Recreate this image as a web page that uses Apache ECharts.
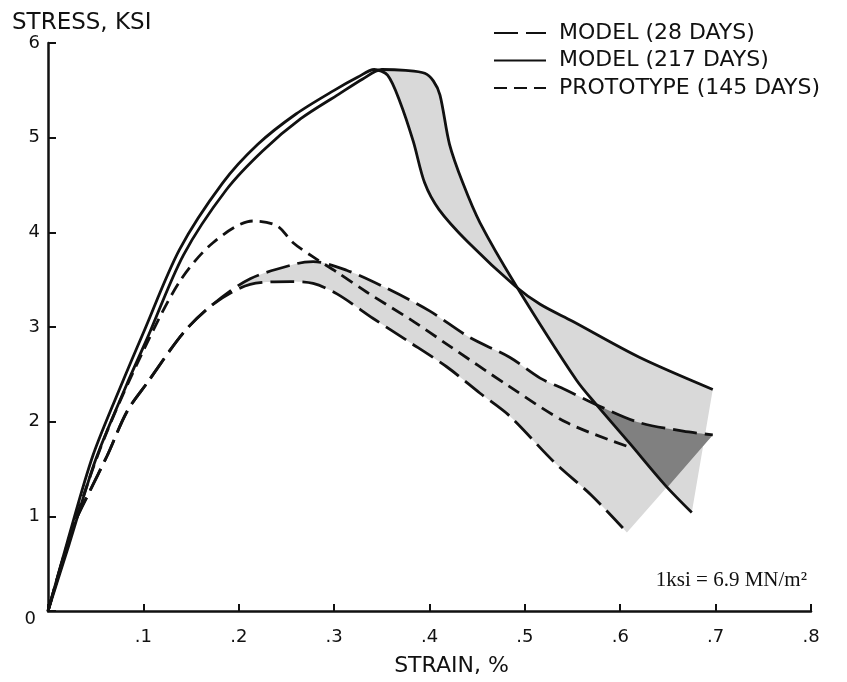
<!DOCTYPE html>
<html>
<head>
<meta charset="utf-8">
<script src="https://cdn.jsdelivr.net/npm/echarts@6/dist/echarts.min.js"></script>
<style>
  html, body { margin: 0; padding: 0; background: #fff; }
  #chart { width: 847px; height: 682px; }
</style>
</head>
<body>
<div id="chart"></div>
<script>
// strain (%), stress (ksi)
const model217Early = [
  [0, 0], [0.02, 0.72], [0.047, 1.64], [0.079, 2.44], [0.1, 2.94], [0.138, 3.82],
  [0.183, 4.52], [0.22, 4.93], [0.26, 5.25], [0.3, 5.5], [0.325, 5.64], [0.342, 5.72],
  [0.356, 5.66], [0.369, 5.38], [0.383, 4.96], [0.395, 4.52], [0.41, 4.24], [0.44, 3.9],
  [0.49, 3.43], [0.516, 3.24], [0.55, 3.06], [0.62, 2.68], [0.697, 2.34]
];
const model217Late = [
  [0, 0], [0.022, 0.7], [0.05, 1.6], [0.082, 2.38], [0.104, 2.88], [0.142, 3.76],
  [0.187, 4.45], [0.225, 4.86], [0.265, 5.2], [0.305, 5.46], [0.33, 5.62], [0.35, 5.72],
  [0.375, 5.71], [0.395, 5.68], [0.404, 5.6], [0.411, 5.45], [0.421, 4.93], [0.435, 4.52],
  [0.453, 4.1], [0.49, 3.45], [0.554, 2.44], [0.575, 2.18], [0.61, 1.77], [0.647, 1.33],
  [0.675, 1.04]
];
const model28Rise = [
  [0, 0], [0.026, 0.88], [0.044, 1.27], [0.062, 1.64], [0.083, 2.11], [0.104, 2.41],
  [0.142, 2.94], [0.173, 3.24]
];
const model28Top = [
  [0.212, 3.51], [0.261, 3.67], [0.278, 3.69], [0.313, 3.6], [0.355, 3.41], [0.4, 3.17],
  [0.442, 2.89], [0.484, 2.68], [0.516, 2.46], [0.542, 2.34], [0.579, 2.16], [0.62, 1.99],
  [0.666, 1.9], [0.697, 1.86]
];
const model28Bottom = [
  [0.212, 3.45], [0.254, 3.48], [0.278, 3.46], [0.303, 3.35], [0.341, 3.09], [0.376, 2.86],
  [0.418, 2.58], [0.453, 2.3], [0.484, 2.06], [0.53, 1.58], [0.57, 1.22], [0.607, 0.83]
];
const prototype145 = [
  [0, 0], [0.03, 1.0], [0.06, 1.85], [0.1, 2.75], [0.138, 3.48], [0.173, 3.89],
  [0.215, 4.12], [0.24, 4.07], [0.257, 3.89], [0.278, 3.74], [0.303, 3.58], [0.334, 3.37],
  [0.383, 3.06], [0.418, 2.82], [0.484, 2.37], [0.544, 1.99], [0.61, 1.73]
];
// strain where the two model bands start / stop overlapping (dark patch)
const overlapStrain = [0.577, 0.65];
const xTickLabels = ['', '.1', '.2', '.3', '.4', '.5', '.6', '.7', '.8'];
const yTickLabels = ['{z|0}', '1', '2', '3', '4', '5', '6'];

const model28Upper = model28Rise.concat(model28Top);
const model28Lower = model28Rise.concat(model28Bottom);

const FONT = '"DejaVu Sans", sans-serif';
const INK = '#111';
const SMOOTH = 0.3;

function clamp(v, a, b) {
  return Math.min(Math.max(v, Math.min(a, b)), Math.max(a, b));
}

// same bezier smoothing the line series uses, sampled so fills follow the lines
function smoothed(pts) {
  const out = [pts[0]];
  let prev = pts[0];
  let cp0 = pts[0];
  for (let i = 1; i < pts.length; i++) {
    const p = pts[i];
    const lenPrev = Math.hypot(p[0] - prev[0], p[1] - prev[1]);
    if (lenPrev * lenPrev < 0.5) continue;
    const next = pts[i + 1];
    let cp1 = p, nextCp0 = p;
    if (next) {
      const lenNext = Math.hypot(next[0] - p[0], next[1] - p[1]);
      const ratio = lenNext / (lenNext + lenPrev);
      let vx = next[0] - prev[0], vy = next[1] - prev[1];
      const nx = clamp(p[0] + vx * SMOOTH * ratio, next[0], p[0]);
      const ny = clamp(p[1] + vy * SMOOTH * ratio, next[1], p[1]);
      vx = nx - p[0]; vy = ny - p[1];
      const c1x = clamp(p[0] - vx * lenPrev / lenNext, prev[0], p[0]);
      const c1y = clamp(p[1] - vy * lenPrev / lenNext, prev[1], p[1]);
      cp1 = [c1x, c1y];
      nextCp0 = [p[0] + (p[0] - c1x) * lenNext / lenPrev, p[1] + (p[1] - c1y) * lenNext / lenPrev];
    }
    for (let k = 1; k <= 12; k++) {
      const t = k / 12, s = 1 - t;
      out.push([
        s * s * s * prev[0] + 3 * s * s * t * cp0[0] + 3 * s * t * t * cp1[0] + t * t * t * p[0],
        s * s * s * prev[1] + 3 * s * s * t * cp0[1] + 3 * s * t * t * cp1[1] + t * t * t * p[1]
      ]);
    }
    prev = p;
    cp0 = nextCp0;
  }
  return out;
}

function between(api, line, from, to) {
  const a = api.coord([from, 0])[0];
  const b = api.coord([to, 0])[0];
  return smoothed(line.map(p => api.coord(p))).filter(p => p[0] >= a && p[0] <= b);
}

// filled region: along `top` then back along `bottom`
function patch(top, bottom, from, to, fill, z) {
  return {
    type: 'custom',
    silent: true,
    z,
    data: [0],
    renderItem: (params, api) => {
      const up = between(api, top, from, 1);
      const lo = between(api, bottom, from, to).reverse();
      return {
        type: 'polygon',
        shape: { points: up.concat(lo) },
        style: { fill }
      };
    }
  };
}

function curve(name, data, dash) {
  return {
    name,
    type: 'line',
    data,
    smooth: SMOOTH,
    symbol: 'none',
    z: 3,
    itemStyle: { color: INK },
    lineStyle: { color: INK, width: 2.8, type: dash }
  };
}

const chart = echarts.init(document.getElementById('chart'));
chart.setOption({
  animation: false,
  backgroundColor: '#fff',
  grid: { left: 48, right: 36, top: 43, bottom: 67 },
  legend: {
    data: ['MODEL (28 DAYS)', 'MODEL (217 DAYS)', 'PROTOTYPE (145 DAYS)'],
    orient: 'vertical',
    left: 493,
    top: 22,
    padding: 0,
    itemWidth: 52,
    itemHeight: 14,
    itemGap: 5.5,
    selectedMode: false,
    itemStyle: { opacity: 0 },
    textStyle: { fontFamily: FONT, fontSize: 22, color: INK, padding: [0, 0, 0, 8] }
  },
  xAxis: {
    type: 'value',
    min: 0,
    max: 0.8,
    interval: 0.1,
    name: 'STRAIN, %',
    nameLocation: 'middle',
    nameGap: 44,
    nameTextStyle: { fontFamily: FONT, fontSize: 22, color: INK, padding: [0, 0, 0, 44] },
    axisLine: { show: true, onZero: false, lineStyle: { color: INK, width: 2.5 } },
    axisTick: { show: true, inside: true, length: 7, lineStyle: { color: INK, width: 2 } },
    axisLabel: {
      fontFamily: FONT, fontSize: 18, color: INK, margin: 17,
      formatter: v => xTickLabels[Math.round(v * 10)]
    },
    splitLine: { show: false }
  },
  yAxis: {
    type: 'value',
    min: 0,
    max: 6,
    interval: 1,
    name: 'STRESS, KSI',
    nameLocation: 'end',
    nameGap: 8,
    nameTextStyle: { fontFamily: FONT, fontSize: 23, color: INK, align: 'left', padding: [0, 0, 0, -36] },
    axisLine: { show: true, onZero: false, lineStyle: { color: INK, width: 2.5 } },
    axisTick: { show: true, inside: true, length: 8, lineStyle: { color: INK, width: 2 } },
    axisLabel: {
      fontFamily: FONT, fontSize: 18, color: INK, margin: 8,
      formatter: v => yTickLabels[Math.round(v)],
      rich: { z: { fontFamily: FONT, fontSize: 18, color: INK, padding: [16, 4, 0, 0] } }
    },
    splitLine: { show: false }
  },
  graphic: [{
    type: 'text',
    right: 40,
    top: 570,
    style: { text: '1ksi = 6.9 MN/m²', font: '21px "Liberation Serif", serif', fill: INK }
  }],
  series: [
    patch(model217Early, model217Late, 0.34, 1, '#d9d9d9', 1),
    patch(model28Upper, model28Lower, 0.2, 1, '#d9d9d9', 1),
    patch(model28Upper, model217Late, overlapStrain[0], overlapStrain[1], '#808080', 2),
    curve('MODEL (28 DAYS)', model28Upper, [24, 8]),
    curve('MODEL (28 DAYS)', model28Lower, [24, 8]),
    curve('MODEL (217 DAYS)', model217Early, 'solid'),
    curve('MODEL (217 DAYS)', model217Late, 'solid'),
    curve('PROTOTYPE (145 DAYS)', prototype145, [13, 7])
  ]
});
</script>
</body>
</html>
